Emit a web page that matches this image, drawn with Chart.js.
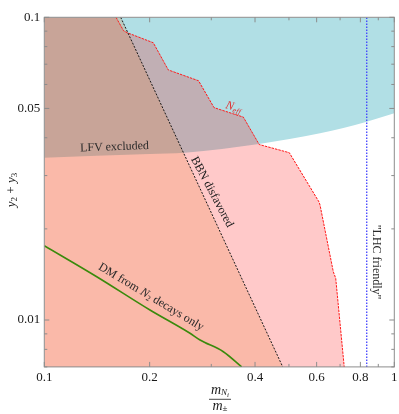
<!DOCTYPE html>
<html><head><meta charset="utf-8">
<script src="https://cdn.jsdelivr.net/npm/chart.js@4.4.0/dist/chart.umd.min.js"></script>
<style>html,body{margin:0;padding:0;background:#fff;overflow:hidden}</style>
</head><body>
<canvas id="c" width="399" height="414" style="display:block;width:399px;height:414px"></canvas>
<script>
// ---- data ----
const xTicks = [0.1,0.2,0.3,0.4,0.5,0.6,0.7,0.8,0.9,1];
const xTickLabels = [0.1,0.2,0.4,0.6,0.8,1];
const yTicks = [0.007,0.008,0.009,0.01,0.02,0.03,0.04,0.05,0.06,0.07,0.08,0.09,0.1];
const yTickLabels = [0.01,0.05,0.1];

// lower boundary of the cyan (LFV) region
const lfvX = [0.1,0.2,0.2523,0.4108,0.6134,0.834,1];
const lfvY = [0.03438,0.03535,0.0357,0.03815,0.04138,0.04519,0.04818];

// N_eff boundary (red dashed)
const neffX = [0.1603,0.1684,0.1723,0.2048,0.2261,0.2759,0.3055,0.3704,0.4111,0.5012,0.6095,0.6134,0.6694,0.6802,0.7193];
const neffY = [0.1,0.0903,0.0890,0.0824,0.0670,0.0617,0.0503,0.0468,0.0380,0.0357,0.02454,0.02399,0.01444,0.01373,0.007];

// BBN boundary (black dashed)
const bbnX = [0.1653,0.48];
const bbnY = [0.1,0.007];

// DM from N2 decays only (green)
const dmX = [0.1,0.1412,0.2004,0.2608,0.2786,0.3247,0.3664];
const dmY = [0.0176,0.0139,0.01079,0.00904,0.008589,0.007856,0.007];

// "LHC friendly" vertical line
const lhcX = 0.834;

const xMin = 0.1, xMax = 1, yMin = 0.007, yMax = 0.1;

const pts = (xs, ys) => xs.map((x,i)=>({x, y: ys[i]}));

const SERIF = '"Liberation Serif", "DejaVu Serif", serif';
const fmt = v => String(v);

const frameTicks = {
  id:'frameTicks',
  afterDatasetsDraw(chart){
    const {ctx, chartArea:a, scales:{x,y}} = chart;
    ctx.save();
    ctx.strokeStyle = '#8c8c8c'; ctx.lineWidth = 1;
    ctx.strokeRect(a.left, a.top, a.right-a.left, a.bottom-a.top);
    ctx.beginPath();
    xTicks.forEach(v=>{
      const px = x.getPixelForValue(v);
      const L = xTickLabels.includes(v) ? 5 : 3;
      ctx.moveTo(px, a.bottom); ctx.lineTo(px, a.bottom-L);
      ctx.moveTo(px, a.top); ctx.lineTo(px, a.top+L);
    });
    yTicks.forEach(v=>{
      const py = y.getPixelForValue(v);
      const L = yTickLabels.includes(v) ? 5 : 3;
      ctx.moveTo(a.left, py); ctx.lineTo(a.left+L, py);
      ctx.moveTo(a.right, py); ctx.lineTo(a.right-L, py);
    });
    ctx.stroke();
    ctx.restore();
  }
};

function runs(ctx, parts){
  let w = 0;
  parts.forEach(p=>{ctx.font = p[1]; w += ctx.measureText(p[0]).width;});
  return w;
}
function drawRuns(ctx, parts, x0, y0){
  let x = x0;
  parts.forEach(p=>{ctx.font = p[1]; ctx.fillText(p[0], x, y0 + (p[2]||0)); x += ctx.measureText(p[0]).width;});
}

const labels = {
  id:'labels',
  afterDatasetsDraw(chart){
    const {ctx, chartArea:a, scales:{x,y}} = chart;
    const f = (s, it) => (it?'italic ':'') + s + 'px ' + SERIF;
    ctx.save();
    ctx.textBaseline = 'middle';
    ctx.fillStyle = '#2a2a2a';
    function place(xv, yv, ang, parts, color, align){
      const px = x.getPixelForValue(xv), py = y.getPixelForValue(yv);
      ctx.save();
      ctx.translate(px, py); ctx.rotate(ang*Math.PI/180);
      ctx.fillStyle = color;
      const w = runs(ctx, parts);
      drawRuns(ctx, parts, align==='left'?0:-w/2, 0);
      ctx.restore();
    }
    place(0.1587, 0.03728, -2, [['LFV excluded', f(12)]], '#2a2a2a');
    place(0.3014, 0.02648, 62, [['BBN disfavored', f(12)]], '#1a1a1a');
    place(0.2018, 0.01191, 31, [['DM from ', f(12)], ['N', f(12,true)], ['2', f(8), 3], [' decays only', f(12)]], '#2a2a2a');
    place(0.8894, 0.01554, 90, [['"LHC friendly"', f(12)]], '#2a2a2a');
    place(0.3304, 0.05131, 17, [['N', f(12,true)], ['eff', f(8,true), 3]], '#e03030', 'left');

    // y axis title
    ctx.save();
    ctx.translate(12, 190); ctx.rotate(-Math.PI/2);
    ctx.fillStyle = '#1a1a1a';
    const yt = [['y', f(13,true)], ['2', f(9), 3], [' + ', f(13)], ['y', f(13,true)], ['3', f(9), 3]];
    drawRuns(ctx, yt, -runs(ctx, yt)/2, 0);
    ctx.restore();

    // x axis title (fraction)
    ctx.fillStyle = '#1a1a1a';
    const cx = 220;
    const num = [['m', f(14,true)], ['N', f(9,true), 3], ['i', f(7,true), 5]];
    const den = [['m', f(14,true)], ['±', f(9), 3]];
    const wn = runs(ctx, num), wd = runs(ctx, den);
    drawRuns(ctx, num, cx - wn/2, 390);
    drawRuns(ctx, den, cx - wd/2, 406);
    ctx.strokeStyle = '#1a1a1a'; ctx.lineWidth = 0.8;
    ctx.beginPath(); ctx.moveTo(cx - 11, 399.3); ctx.lineTo(cx + 11, 399.3); ctx.stroke();
    ctx.restore();
  }
};

function noPad(s){ s.paddingLeft = 0; s.paddingRight = 0; s.paddingTop = 0; s.paddingBottom = 0; }

new Chart(document.getElementById('c'), {
  type: 'line',
  data: {
    datasets: [
      { // cyan LFV region (above its boundary)
        data: pts(lfvX, lfvY), fill: 'end', backgroundColor: '#b1dfe5',
        borderWidth: 0, pointRadius: 0, cubicInterpolationMode: 'monotone', order: 10 },
      { // pink region left of N_eff boundary
        data: [{x:xMin, y:yMax}].concat(pts(neffX, neffY)), fill: 'start',
        backgroundColor: 'rgba(255,0,0,0.21)', borderWidth: 0, pointRadius: 0, order: 9 },
      { // orange region left of BBN boundary
        data: [{x:xMin, y:yMax}].concat(pts(bbnX, bbnY)), fill: 'start',
        backgroundColor: 'rgba(230,120,40,0.2)', borderWidth: 0, pointRadius: 0, order: 8 },
      { data: pts(neffX, neffY), borderColor: '#ff1a1a', borderWidth: 1, borderDash: [2.5,1],
        pointRadius: 0, fill: false, order: 4 },
      { data: pts(bbnX, bbnY), borderColor: '#1a1a1a', borderWidth: 1, borderDash: [2,1.5],
        pointRadius: 0, fill: false, order: 3 },
      { data: pts(dmX, dmY), borderColor: '#3a8a0c', borderWidth: 1.6, cubicInterpolationMode: 'monotone',
        pointRadius: 0, fill: false, order: 2 },
      { data: [{x:lhcX, y:yMin},{x:lhcX, y:yMax}], borderColor: 'rgba(60,60,255,0.9)', borderWidth: 1.4,
        borderDash: [1.3,1.7], pointRadius: 0, fill: false, order: 1 }
    ]
  },
  options: {
    animation: false, responsive: false, devicePixelRatio: 1,
    layout: { padding: { left: 0, right: 4.7, top: 17.3, bottom: 0 } },
    plugins: { legend: { display: false }, tooltip: { enabled: false }, filler: { propagate: false } },
    scales: {
      x: { type: 'logarithmic', min: xMin, max: xMax,
        afterFit(s){ s.height = 47.1; noPad(s); },
        afterBuildTicks(s){ s.ticks = xTickLabels.map(v=>({value:v})); },
        grid: { display: false, drawTicks: false }, border: { display: false },
        ticks: { font: { family: SERIF, size: 13 }, color: '#1a1a1a', padding: 3, maxRotation: 0, autoSkip: false, callback: v => fmt(v) } },
      y: { type: 'logarithmic', min: yMin, max: yMax,
        afterFit(s){ s.width = 44.3; noPad(s); },
        afterBuildTicks(s){ s.ticks = yTickLabels.map(v=>({value:v})); },
        grid: { display: false, drawTicks: false }, border: { display: false },
        ticks: { font: { family: SERIF, size: 13 }, color: '#1a1a1a', padding: 4, autoSkip: false, callback: v => fmt(v) } }
    }
  },
  plugins: [frameTicks, labels]
});
</script>
</body></html>
